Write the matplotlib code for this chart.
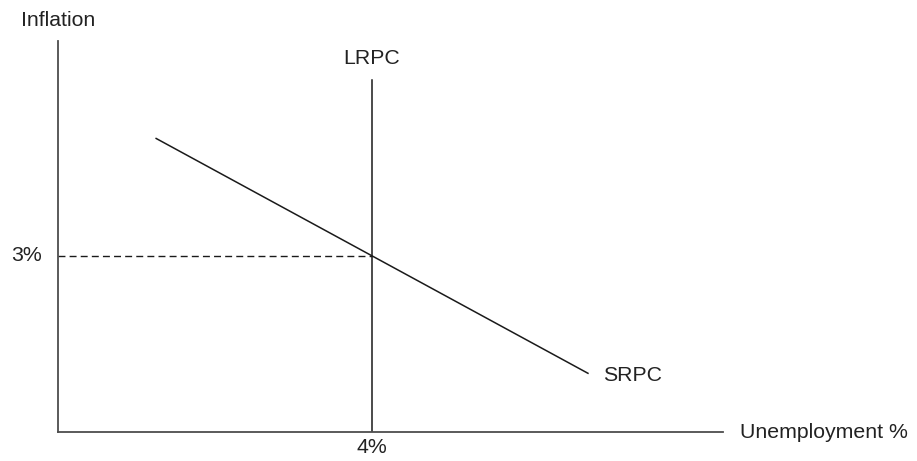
import matplotlib
matplotlib.use("Agg")
import matplotlib.pyplot as plt

# Phillips curve values (unemployment %, inflation %)
natural_rate = 4.0
expected_inflation = 3.0
lrpc_top = 6.0
srpc_x = [1.25, 6.75]
srpc_y = [5.0, 1.0]
x_max = 8.47
y_max = 6.66

plt.rcParams['font.family'] = ['Liberation Sans', 'DejaVu Sans']

fig = plt.figure(figsize=(9.17, 4.61), dpi=100)
ax = fig.add_axes([58 / 917, 29 / 461, 665 / 917, 391 / 461])
ax.set_xlim(0, x_max)
ax.set_ylim(0, y_max)

# axes: only left and bottom, no ticks
for side in ['top', 'right']:
    ax.spines[side].set_visible(False)
for side in ['left', 'bottom']:
    ax.spines[side].set_color('#4d4d4d')
    ax.spines[side].set_linewidth(1.3)
ax.set_xticks([])
ax.set_yticks([])

# curves
ax.plot([natural_rate, natural_rate], [0, lrpc_top], color='#1a1a1a', lw=1.1)
ax.plot(srpc_x, srpc_y, color='#1a1a1a', lw=1.1)
ax.plot([0, natural_rate], [expected_inflation, expected_inflation],
        color='#1a1a1a', lw=1.0, ls=(0, (5, 3)))

txt = dict(fontsize=15.3, color='#222222')
ax.annotate('Inflation', (0, y_max), xytext=(0, 15), textcoords='offset points',
            ha='center', va='center', annotation_clip=False, **txt)
ax.annotate('Unemployment %', (x_max, 0), xytext=(12, 0), textcoords='offset points',
            ha='left', va='center', annotation_clip=False, **txt)
ax.annotate('LRPC', (natural_rate, lrpc_top), xytext=(0, 15), textcoords='offset points',
            ha='center', va='center', annotation_clip=False, **txt)
ax.annotate('SRPC', (srpc_x[1], srpc_y[1]), xytext=(11, -1.5), textcoords='offset points',
            ha='left', va='center', annotation_clip=False, **txt)
ax.annotate('3%', (0, expected_inflation), xytext=(-11.5, 0), textcoords='offset points',
            ha='right', va='center', annotation_clip=False, **txt)
ax.annotate('4%', (natural_rate, 0), xytext=(0, -11), textcoords='offset points',
            ha='center', va='center', annotation_clip=False, **txt)

fig.savefig('out.png', dpi=100, facecolor='white')
